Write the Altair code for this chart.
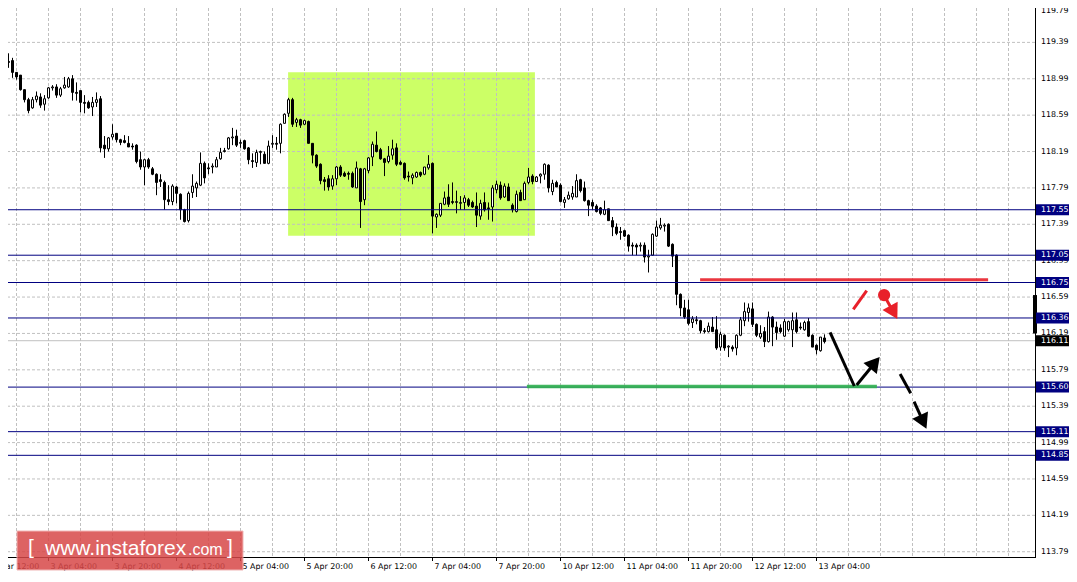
import altair as alt
import pandas as pd

# ---------------- H1 candles (bar index 0 = 31 Mar 16:00) ----------------
opens = [119.45,119.27,119.18,119.19,119.06,119.03,118.87,118.76,118.67,118.76,
         118.79,118.71,118.78,118.89,118.90,118.81,118.89,118.90,118.99,118.84,
         118.86,118.73,118.73,118.68,118.73,118.77,118.26,118.22,118.35,118.39,
         118.32,118.31,118.28,118.25,118.26,118.10,118.02,118.10,118.00,117.94,
         117.88,117.85,117.66,117.64,117.80,117.72,117.55,117.43,117.74,117.79,
         117.82,118.06,118.01,118.02,118.02,118.11,118.19,118.22,118.34,118.36,
         118.28,118.31,118.23,118.09,118.07,118.18,118.16,118.06,118.27,118.28,
         118.28,118.50,118.61,118.76,118.51,118.54,118.49,118.52,118.28,118.15,
         118.05,117.88,117.89,117.81,117.89,118.02,117.95,117.95,117.95,117.79,
         118.00,117.66,117.98,118.13,118.26,118.21,118.11,118.08,118.15,118.23,
         118.07,118.06,117.92,117.90,117.91,117.96,117.94,118.01,118.06,117.47,
         117.49,117.61,117.69,117.64,117.63,117.62,117.63,117.66,117.63,117.59,
         117.48,117.63,117.57,117.58,117.77,117.82,117.69,117.80,117.60,117.53,
         117.74,117.66,117.85,117.92,117.86,117.92,117.94,118.04,117.75,117.85,
         117.82,117.63,117.67,117.69,117.69,117.88,117.79,117.65,117.63,117.59,
         117.57,117.50,117.56,117.43,117.36,117.31,117.32,117.27,117.16,117.16,
         117.15,117.16,117.03,117.05,117.26,117.35,117.37,117.39,117.17,117.05,
         116.62,116.47,116.45,116.31,116.34,116.33,116.22,116.21,116.26,116.23,
         116.04,116.17,116.04,116.04,116.03,116.17,116.33,116.42,116.46,116.29,
         116.15,116.21,116.10,116.37,116.26,116.25,116.16,116.23,116.23,116.34,
         116.26,116.23,116.32,116.17,116.06,116.00,116.14]
highs = [119.49,119.33,119.27,119.22,119.06,119.03,118.87,118.78,118.79,118.85,
         118.83,118.81,118.90,118.92,118.93,118.90,119.01,119.01,119.03,118.95,
         118.86,118.81,118.75,118.79,118.84,118.80,118.36,118.35,118.49,118.39,
         118.33,118.37,118.36,118.28,118.27,118.19,118.11,118.12,118.02,117.95,
         117.94,117.87,117.82,117.83,117.81,117.73,117.56,117.75,117.94,117.86,
         118.18,118.08,118.06,118.06,118.13,118.23,118.23,118.35,118.45,118.43,
         118.32,118.32,118.24,118.17,118.21,118.20,118.19,118.31,118.37,118.35,
         118.50,118.61,118.78,118.78,118.56,118.55,118.54,118.53,118.28,118.16,
         118.06,117.91,117.93,117.93,118.03,118.04,117.97,117.97,117.97,118.08,
         118.01,118.01,118.13,118.30,118.41,118.23,118.12,118.25,118.32,118.28,
         118.09,118.07,117.97,117.95,117.97,117.97,118.02,118.15,118.07,117.51,
         117.62,117.75,117.83,117.85,117.76,117.70,117.71,117.68,117.65,117.74,
         117.66,117.74,117.63,117.82,117.87,117.86,117.84,117.84,117.62,117.76,
         117.77,117.86,118.01,117.94,117.92,117.95,118.06,118.05,117.88,117.87,
         117.84,117.69,117.75,117.81,117.94,117.89,117.86,117.66,117.66,117.61,
         117.58,117.65,117.56,117.47,117.40,117.36,117.33,117.28,117.19,117.18,
         117.19,117.19,117.11,117.29,117.43,117.46,117.40,117.40,117.18,117.06,
         116.63,116.56,116.56,116.38,116.38,116.34,116.25,116.31,116.37,116.38,
         116.21,116.18,116.06,116.06,116.18,116.37,116.53,116.52,116.53,116.30,
         116.28,116.26,116.43,116.38,116.32,116.29,116.35,116.33,116.42,116.42,
         116.31,116.33,116.36,116.18,116.07,116.15,116.18]
lows = [119.23,119.09,119.11,119.00,118.98,118.86,118.73,118.61,118.66,118.73,
        118.67,118.64,118.77,118.86,118.78,118.79,118.88,118.89,118.75,118.75,
        118.62,118.61,118.66,118.58,118.68,118.18,118.12,118.19,118.32,118.29,
        118.26,118.28,118.24,118.21,118.06,117.99,117.82,118.00,117.93,117.71,
        117.80,117.55,117.60,117.60,117.62,117.44,117.41,117.41,117.68,117.69,
        117.81,117.84,117.94,117.95,118.02,118.10,118.18,118.21,118.26,118.24,
        118.23,118.21,118.05,118.01,118.02,118.05,118.06,118.05,118.23,118.21,
        118.17,118.50,118.57,118.46,118.46,118.45,118.48,118.28,118.06,118.01,
        117.83,117.76,117.76,117.77,117.82,117.91,117.91,117.88,117.79,117.79,
        117.35,117.60,117.95,118.03,118.18,118.10,117.92,118.06,118.10,118.03,
        118.04,117.88,117.86,117.83,117.90,117.91,117.93,117.99,117.29,117.35,
        117.47,117.60,117.58,117.61,117.51,117.55,117.55,117.58,117.57,117.36,
        117.44,117.53,117.44,117.42,117.73,117.66,117.68,117.65,117.52,117.52,
        117.65,117.66,117.83,117.83,117.86,117.84,117.88,117.74,117.71,117.80,
        117.63,117.57,117.66,117.66,117.69,117.74,117.64,117.48,117.55,117.52,
        117.49,117.49,117.43,117.26,117.27,117.22,117.25,117.09,117.05,117.05,
        117.09,116.97,116.86,117.05,117.25,117.33,117.31,117.14,116.92,116.50,
        116.38,116.35,116.28,116.25,116.29,116.19,116.19,116.20,116.21,116.01,
        116.00,116.00,115.93,115.99,115.95,116.16,116.27,116.32,116.26,116.15,
        116.13,116.04,116.09,116.05,116.12,116.19,116.15,116.21,116.04,116.19,
        116.23,116.22,116.15,116.04,115.96,115.99,116.08]
closes = [119.29,119.16,119.17,119.06,119.01,118.87,118.76,118.64,118.76,118.80,
          118.70,118.77,118.89,118.90,118.81,118.88,118.92,118.99,118.84,118.83,
          118.73,118.72,118.67,118.73,118.76,118.23,118.22,118.34,118.38,118.32,
          118.29,118.29,118.24,118.24,118.08,118.02,118.10,118.02,117.94,117.85,
          117.86,117.66,117.64,117.81,117.73,117.55,117.42,117.73,117.81,117.84,
          118.06,117.90,118.00,118.03,118.10,118.18,118.20,118.34,118.35,118.26,
          118.29,118.22,118.10,118.08,118.18,118.19,118.06,118.25,118.28,118.27,
          118.49,118.60,118.76,118.49,118.54,118.48,118.53,118.28,118.15,118.03,
          117.87,117.86,117.80,117.89,118.02,117.93,117.92,117.94,117.80,118.01,
          117.64,118.00,118.12,118.27,118.19,118.11,118.07,118.14,118.22,118.05,
          118.05,117.90,117.91,117.93,117.96,117.93,118.02,118.05,117.48,117.50,
          117.62,117.68,117.61,117.63,117.64,117.63,117.68,117.60,117.58,117.49,
          117.62,117.55,117.56,117.79,117.83,117.68,117.81,117.65,117.55,117.72,
          117.65,117.84,117.91,117.86,117.91,117.94,118.05,117.79,117.84,117.80,
          117.64,117.66,117.71,117.73,117.87,117.76,117.65,117.60,117.59,117.53,
          117.51,117.55,117.43,117.36,117.29,117.30,117.26,117.15,117.15,117.14,
          117.16,117.03,117.04,117.28,117.36,117.38,117.38,117.15,117.04,116.62,
          116.47,116.37,116.30,116.35,116.33,116.22,116.21,116.27,116.21,116.03,
          116.18,116.03,116.05,116.02,116.17,116.34,116.43,116.47,116.29,116.17,
          116.19,116.10,116.37,116.26,116.20,116.21,116.32,116.32,116.33,116.21,
          116.25,116.31,116.16,116.04,116.01,116.15,116.10]

# ---------------- axes / annotations ----------------
price_ticks = [113.79, 114.19, 114.59, 114.99, 115.39, 115.79, 116.19, 116.59,
               116.99, 117.39, 117.79, 118.19, 118.59, 118.99, 119.39, 119.79]
level_prices = [117.55, 117.05, 116.75, 116.36, 115.60, 115.11, 114.85]
bid_price = 116.11
date_bars = [-4, 12, 28, 44, 60, 76, 92, 108, 124, 140, 156, 172, 188, 204]
date_labels = ["31 Mar 12:00", "3 Apr 04:00", "3 Apr 20:00", "4 Apr 12:00",
               "5 Apr 04:00", "5 Apr 20:00", "6 Apr 12:00", "7 Apr 04:00",
               "7 Apr 20:00", "10 Apr 12:00", "11 Apr 04:00", "11 Apr 20:00",
               "12 Apr 12:00", "13 Apr 04:00"]
grid_bars = list(range(4, 257, 8))

zone_bars = [71.9, 133.6]
zone_prices = [117.264, 119.061]
red_level_bars = [174.9, 246.9]
red_level_price = 116.78
green_level_bars = [131.6, 219.1]
green_level_price = 115.606

seg_id = ["a", "a", "b", "b", "c", "c", "d", "d", "e", "e", "f", "f"]
seg_bar = [207.4, 213.45, 214.05, 218.6, 224.9, 227.55, 228.4, 230.7, 213.2, 216.55, 221.4, 223.3]
seg_price = [116.202, 115.612, 115.623, 115.868, 115.744, 115.532, 115.439, 115.217,
             116.455, 116.66, 116.568, 116.421]
seg_col = ["black"] * 8 + ["#e8202a"] * 4

head_bar = [218.6, 230.7, 223.3]
head_price = [115.868, 115.217, 116.421]
head_angle = [39.5, 155, 151]
head_col = ["black", "black", "#e8202a"]
dot_bar = [220.9]
dot_price = [116.612]

FONT = "DejaVu Sans"
FS = 7.9
W, H = 1027, 549

xs = alt.Scale(domain=[1.875, 258.625], nice=False, zero=False)
ys = alt.Scale(domain=[113.732, 119.768], nice=False, zero=False)


def X(f, **kw):
    return alt.X(f, scale=xs, axis=None, **kw)


def Y(f, **kw):
    return alt.Y(f, scale=ys, axis=None, **kw)


candles = pd.DataFrame({"bar": list(range(len(opens))), "open": opens, "high": highs,
                        "low": lows, "close": closes})
one = pd.DataFrame({"k": [0]})

zone = alt.Chart(pd.DataFrame({"b0": [zone_bars[0]], "b1": [zone_bars[1]],
                               "p0": [zone_prices[0]], "p1": [zone_prices[1]]})).mark_rect(
    color="#ccff66").encode(x=X("b0:Q"), x2="b1:Q", y=Y("p0:Q"), y2="p1:Q")

vgrid = alt.Chart(pd.DataFrame({"bar": grid_bars})).mark_rule(
    color="#c0c0c0", strokeDash=[3, 2], strokeWidth=1).encode(x=X("bar:Q"))
hgrid = alt.Chart(pd.DataFrame({"price": price_ticks})).mark_rule(
    color="#c0c0c0", strokeDash=[3, 2], strokeWidth=1).encode(y=Y("price:Q"))
bid = alt.Chart(pd.DataFrame({"price": [bid_price]})).mark_rule(
    color="#c0c0c0", strokeWidth=1).encode(y=Y("price:Q"))

wicks = alt.Chart(candles).mark_rule(color="black", strokeWidth=1).encode(
    x=X("bar:Q"), y=Y("low:Q"), y2="high:Q")

bodies = alt.Chart(candles).transform_calculate(
    b0="datum.bar - 0.25", b1="datum.bar + 0.25"
).mark_rect(stroke="black", strokeWidth=1).encode(
    x=X("b0:Q"), x2="b1:Q", y=Y("open:Q"), y2="close:Q",
    fill=alt.condition("datum.close >= datum.open", alt.value("white"), alt.value("black")))

levels = alt.Chart(pd.DataFrame({"price": level_prices})).mark_rule(
    color="#000080", strokeWidth=1).encode(y=Y("price:Q"))

red_level = alt.Chart(pd.DataFrame({"b0": [red_level_bars[0]], "b1": [red_level_bars[1]],
                                    "p": [red_level_price]})).mark_rule(
    color="#e8202a", strokeWidth=3, opacity=0.9).encode(x=X("b0:Q"), x2="b1:Q", y=Y("p:Q"))
green_level = alt.Chart(pd.DataFrame({"b0": [green_level_bars[0]], "b1": [green_level_bars[1]],
                                      "p": [green_level_price]})).mark_rule(
    color="#2fb04f", strokeWidth=3.5, opacity=0.9).encode(x=X("b0:Q"), x2="b1:Q", y=Y("p:Q"))

segs = alt.Chart(pd.DataFrame({"seg": seg_id, "bar": seg_bar, "price": seg_price, "col": seg_col,
                               "ord": list(range(len(seg_id)))})).mark_line(
    strokeWidth=3).encode(x=X("bar:Q"), y=Y("price:Q"), detail="seg:N", order="ord:Q",
                          color=alt.Color("col:N", scale=None))
heads = alt.Chart(pd.DataFrame({"bar": head_bar, "price": head_price, "ang": head_angle,
                                "col": head_col})).mark_point(
    shape="triangle-up", filled=True, size=300, opacity=1, strokeWidth=0).encode(
    x=X("bar:Q"), y=Y("price:Q"), angle=alt.Angle("ang:Q", scale=None),
    color=alt.Color("col:N", scale=None))
dot = alt.Chart(pd.DataFrame({"bar": dot_bar, "price": dot_price})).mark_point(
    shape="circle", filled=True, size=150, opacity=1, color="#e8202a", strokeWidth=0).encode(
    x=X("bar:Q"), y=Y("price:Q"))

# axis lines
axis_right = alt.Chart(one).mark_rule(color="black", strokeWidth=1).encode(
    x=alt.value(W + 0.5), y=alt.value(-8), y2=alt.value(H))
axis_bottom = alt.Chart(one).mark_rule(color="black", strokeWidth=1).encode(
    x=alt.value(-8), x2=alt.value(W + 1), y=alt.value(H + 0.5))
price_df = pd.DataFrame({"price": price_ticks, "label": [f"{p:.2f}" for p in price_ticks]})
price_txt = alt.Chart(price_df.iloc[:-1]).mark_text(
    align="left", baseline="middle", color="black", font=FONT, fontSize=FS).encode(
    x=alt.value(W + 6), y=Y("price:Q"), text="label:N")
# top-most label sits at the very top edge: keep it just inside the visible area
price_top = alt.Chart(price_df.iloc[-1:]).mark_text(
    align="left", baseline="top", color="black", font=FONT, fontSize=FS).encode(
    x=alt.value(W + 6), y=alt.value(-1), text="label:N")

tags = pd.DataFrame({"price": level_prices + [bid_price],
                     "label": [f"{p:.2f}" for p in level_prices + [bid_price]],
                     "col": ["#000080"] * len(level_prices) + ["black"]})
tag_box = alt.Chart(tags).mark_rule(strokeWidth=11, strokeCap="butt").encode(
    x=alt.value(W + 1), x2=alt.value(W + 34), y=Y("price:Q"), color=alt.Color("col:N", scale=None))
tag_txt = alt.Chart(tags).mark_text(align="left", baseline="middle", color="white",
                                    font=FONT, fontSize=FS).encode(
    x=alt.value(W + 6), y=Y("price:Q"), text="label:N")

ticks_df = pd.DataFrame({"bar": date_bars, "label": date_labels})
date_ticks = alt.Chart(ticks_df).mark_rule(color="black", strokeWidth=1).encode(
    x=X("bar:Q"), y=alt.value(H), y2=alt.value(H + 4))
date_txt = alt.Chart(ticks_df).mark_text(align="left", baseline="middle", dx=2, color="black",
                                         font=FONT, fontSize=FS).encode(
    x=X("bar:Q"), y=alt.value(H + 10), text="label:N")

last_bar_mark = alt.Chart(pd.DataFrame({"p0": [116.19], "p1": [116.612]})).mark_rule(
    color="black", strokeWidth=4).encode(x=alt.value(W), y=Y("p0:Q"), y2="p1:Q")

wm_box = alt.Chart(one).mark_rect(fill="#d84848", opacity=0.85, stroke="#eeaaaa",
                                  strokeWidth=1).encode(
    x=alt.value(9), x2=alt.value(235), y=alt.value(523), y2=alt.value(562))
wm_l = alt.Chart(one).mark_text(text="[", align="left", baseline="alphabetic", color="white",
                                font="Liberation Sans", fontSize=21).encode(
    x=alt.value(20), y=alt.value(546))
wm_main = alt.Chart(one).mark_text(text="www.instaforex", align="left", baseline="alphabetic",
                                   color="white", font="Liberation Sans", fontSize=21).encode(
    x=alt.value(37), y=alt.value(547))
wm_com = alt.Chart(one).mark_text(text=".com", align="left", baseline="alphabetic",
                                  color="white", font="Liberation Sans", fontSize=16).encode(
    x=alt.value(180), y=alt.value(547))
wm_r = alt.Chart(one).mark_text(text="]", align="left", baseline="alphabetic", color="white",
                                font="Liberation Sans", fontSize=21).encode(
    x=alt.value(219), y=alt.value(546))

chart = alt.layer(
    zone, vgrid, hgrid, bid, wicks, bodies, levels, red_level, green_level, segs, heads, dot,
    axis_right, axis_bottom, price_txt, price_top, last_bar_mark, tag_box, tag_txt,
    date_ticks, date_txt, wm_box, wm_l, wm_main, wm_com, wm_r
).properties(
    width=W, height=H,
    autosize=alt.AutoSizeParams(type="none"),
    padding={"left": 0, "top": 0, "right": 34, "bottom": 17},
    background="white",
).configure_view(stroke=None)

chart.save("out.html", embed_options={"renderer": "svg", "actions": False})
